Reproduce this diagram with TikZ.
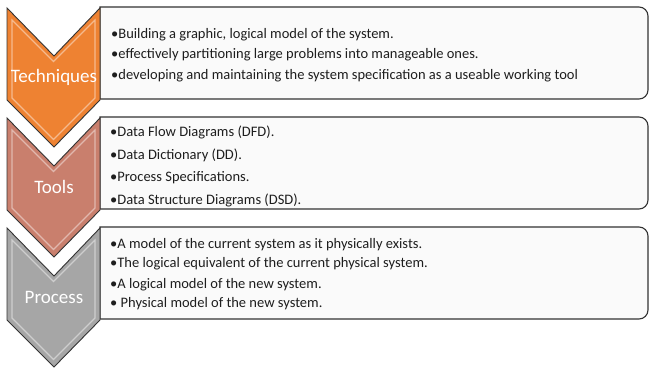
\documentclass[tikz,border=0pt]{standalone}
\usepackage{fontspec}
\setmainfont{Carlito}
\definecolor{orangeC}{HTML}{EE8232}
\definecolor{toolsC}{HTML}{C97F6D}
\definecolor{procC}{HTML}{A6A6A6}
\definecolor{edgeC}{HTML}{333333}
\definecolor{boxfill}{HTML}{FAFAFA}
\definecolor{txtC}{HTML}{1E1E1E}
\tikzset{
  chev/.style={draw=edgeC, line width=0.9pt, line join=miter},
  bevel/.style={draw=white, draw opacity=0.45, line width=1.2pt, line join=miter},
  infobox/.style={draw=edgeC, fill=boxfill, line width=1.1pt},
  item/.style={anchor=base west, inner sep=0pt, text=txtC, font=\fontsize{14.5}{16}\selectfont},
  clabel/.style={anchor=base, inner sep=0pt, text=white, font=\fontsize{19}{21}\selectfont}
}
\begin{document}
\begin{tikzpicture}[x=1pt,y=-1pt]
\useasboundingbox (0,0) rectangle (650,371);
\fill[white] (0,0) rectangle (650,371);
% boxes
\foreach \k in {0,1,2}{
  \path[infobox] (100,7+110*\k) [rounded corners=9] -- (648,7+110*\k) -- (648,99+110*\k) [sharp corners] -- (100,99+110*\k) -- cycle;
}
% chevrons
\foreach \k/\c in {0/orangeC,1/toolsC,2/procC}{
  \begin{scope}[yshift=-110*\k]
  \path[chev, fill=\c] (7,8) -- (54,56) -- (100,8) -- (100,100) -- (54,147) -- (7,100) -- cycle;
  \path[bevel] (12,20) -- (53.5,61.5) -- (95,20) -- (95,98) -- (53.5,139.5) -- (12,98) -- cycle;
  \end{scope}
}
% labels
\node[clabel] (lt) at (54,83) {Techniques};
\node[clabel] (lo) at (54,194) {Tools};
\node[clabel] (lp) at (54,303) {Process};
% box 1 text
\node[item] (a1) at (111,38.5) {•Building a graphic, logical model of the system.};
\node[item] (a2) at (111,59) {•effectively partitioning large problems into manageable ones.};
\node[item] (a3) at (111,79.5) {•developing and maintaining the system specification as a useable working tool};
% box 2 text
\node[item] (b1) at (110,137) {•Data Flow Diagrams (DFD).};
\node[item] (b2) at (110,159.5) {•Data Dictionary (DD).};
\node[item] (b3) at (110,182) {•Process Specifications.};
\node[item] (b4) at (110,204.5) {•Data Structure Diagrams (DSD).};
% box 3 text
\node[item] (c1) at (110,248) {•A model of the current system as it physically exists.};
\node[item] (c2) at (110,268) {•The logical equivalent of the current physical system.};
\node[item] (c3) at (110,288) {•A logical model of the new system.};
\node[item] (c4) at (110,307.5) {• Physical model of the new system.};
\end{tikzpicture}
\end{document}
